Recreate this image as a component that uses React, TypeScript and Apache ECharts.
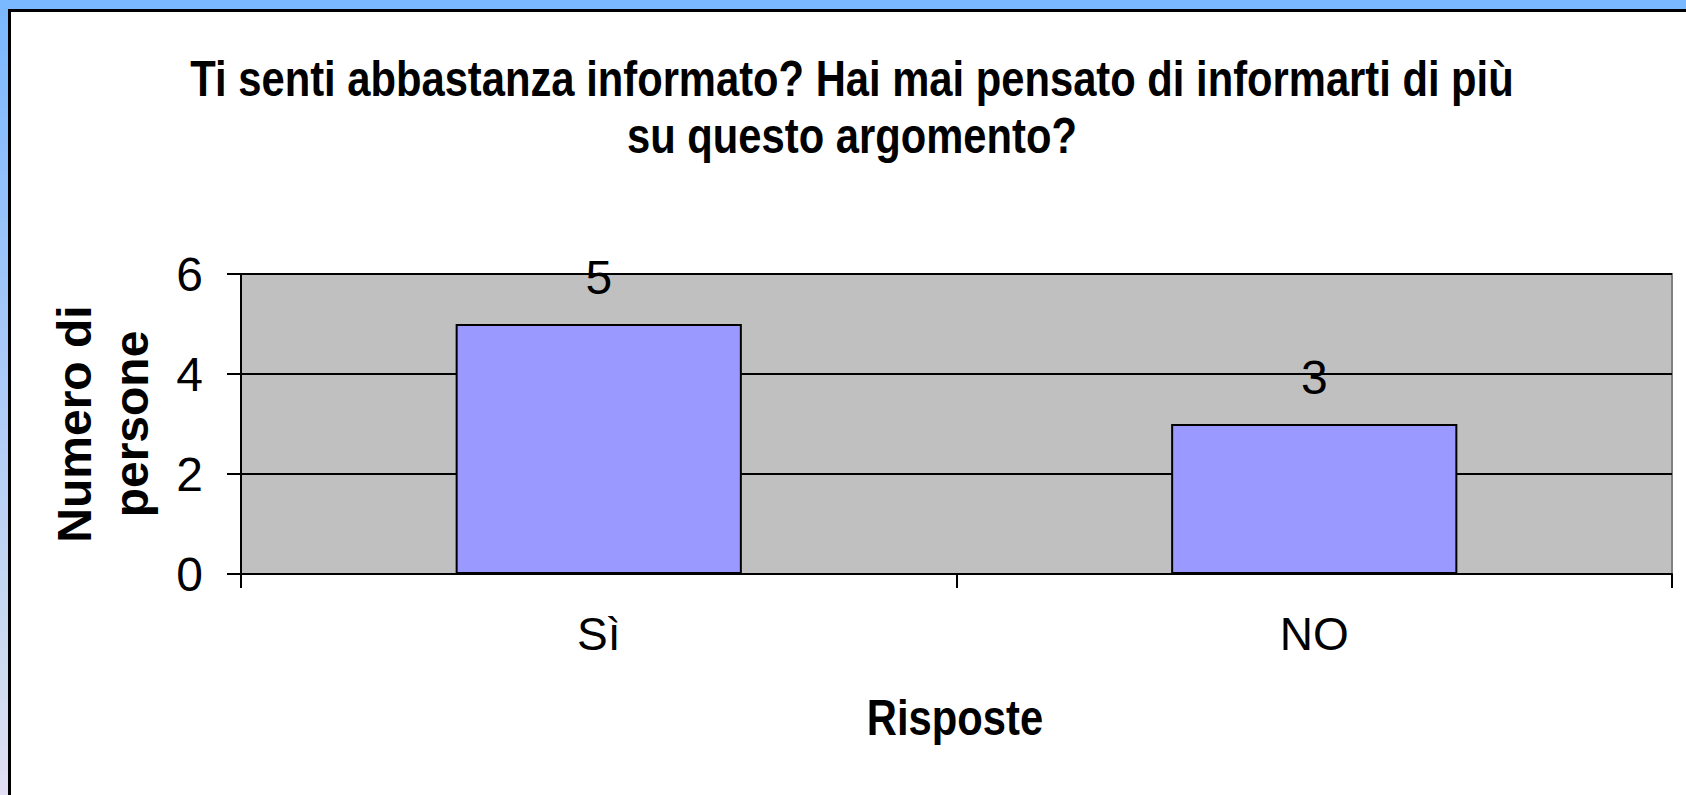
import React, { useEffect, useRef } from "react";
import * as echarts from "echarts";

const titleText = "Ti senti abbastanza informato? Hai mai pensato di informarti di più\nsu questo argomento?";
const categories = ["Sì", "NO"];
const values = [5, 3];
const yMin = 0;
const yMax = 6;
const yInterval = 2;
const xAxisName = "Risposte";
const yAxisName = "Numero di\npersone";

const FONT = '"Liberation Sans", Arial, sans-serif';
const NARROW_SCALE = 0.835;

export default function App() {
  const ref = useRef<HTMLDivElement>(null);
  useEffect(() => {
    if (!ref.current) return;
    const chart = echarts.init(ref.current, undefined, { renderer: "svg" });
    chart.setOption({
      animation: false,
      backgroundColor: "transparent",
      graphic: [
        {
          type: "text",
          x: 852,
          y: 50,
          scaleX: NARROW_SCALE,
          style: {
            text: titleText,
            fontFamily: FONT,
            fontWeight: "bold",
            fontSize: 50,
            lineHeight: 57,
            fill: "#000",
            align: "center",
            verticalAlign: "top",
          },
        },
        {
          type: "text",
          x: 955,
          y: 693,
          scaleX: NARROW_SCALE,
          style: {
            text: xAxisName,
            fontFamily: FONT,
            fontWeight: "bold",
            fontSize: 50,
            lineHeight: 50,
            fill: "#000",
            align: "center",
            verticalAlign: "top",
          },
        },
      ],
      grid: {
        left: 241,
        right: 14,
        top: 274,
        bottom: 221,
        show: true,
        backgroundColor: "#c0c0c0",
        borderColor: "#808080",
        borderWidth: 2,
      },
      xAxis: {
        type: "category",
        data: categories,
        boundaryGap: true,
        axisLine: { show: true, lineStyle: { color: "#000", width: 2 } },
        axisTick: { show: true, length: 14, interval: 0, lineStyle: { color: "#000", width: 2 } },
        axisLabel: {
          fontFamily: FONT,
          fontSize: 46,
          color: "#000",
          margin: 37,
          interval: 0,
        },
        splitLine: { show: false },
      },
      yAxis: {
        type: "value",
        min: yMin,
        max: yMax,
        interval: yInterval,
        name: yAxisName,
        nameLocation: "middle",
        nameRotate: 90,
        nameGap: 81,
        nameTextStyle: {
          fontFamily: FONT,
          fontWeight: "bold",
          fontSize: 48,
          lineHeight: 57,
          color: "#000",
          align: "center",
        },
        axisLine: { show: true, lineStyle: { color: "#000", width: 2 } },
        axisTick: { show: true, length: 14, lineStyle: { color: "#000", width: 2 } },
        axisLabel: {
          fontFamily: FONT,
          fontSize: 48,
          color: "#000",
          margin: 38,
        },
        splitLine: { show: true, lineStyle: { color: "#000", width: 2 } },
      },
      series: [
        {
          type: "bar",
          data: values,
          barWidth: "40%",
          itemStyle: { color: "#9999ff", borderColor: "#000", borderWidth: 2 },
          label: {
            show: true,
            position: "top",
            distance: 23,
            fontFamily: FONT,
            fontSize: 48,
            color: "#000",
          },
        },
      ],
    });
    return () => chart.dispose();
  }, []);

  return (
    <div
      style={{
        position: "fixed",
        left: 0,
        top: 0,
        width: 1686,
        height: 795,
        overflow: "hidden",
        background: "linear-gradient(to bottom, #7ab8ff 0%, #a9c9f8 45%, #cfdcf0 85%, #e3dff4 100%)",
      }}
    >
      <div
        style={{
          position: "absolute",
          left: 8,
          top: 9,
          width: 1800,
          height: 900,
          background: "#fff",
          borderLeft: "3px solid #000",
          borderTop: "3px solid #000",
        }}
      />
      <div ref={ref} style={{ position: "absolute", left: 0, top: 0, width: 1686, height: 795 }} />
    </div>
  );
}
